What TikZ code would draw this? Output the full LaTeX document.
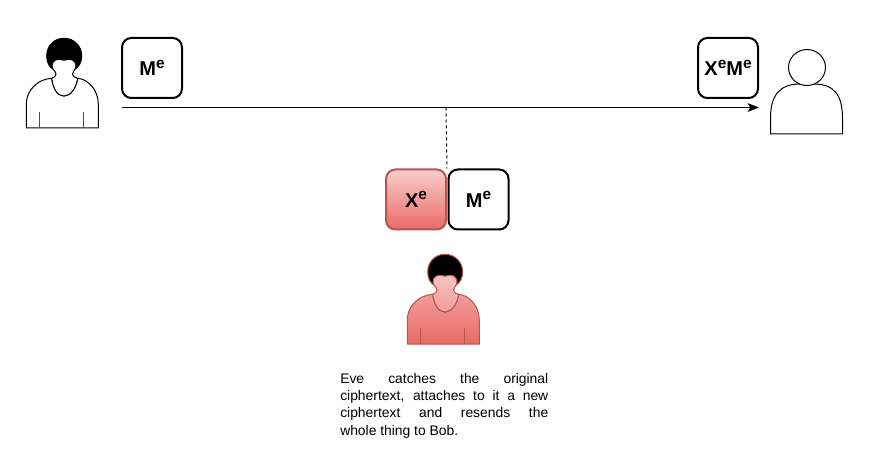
\documentclass[tikz,border=0pt]{standalone}
\usepackage{fontspec}
\setmainfont{Liberation Sans}
\usetikzlibrary{arrows.meta}
\definecolor{evetop}{HTML}{F8CECC}
\definecolor{evebot}{HTML}{EA6B66}
\definecolor{evestroke}{HTML}{B85450}
\colorlet{evelow}{evebot!50!evetop}
\colorlet{evefacetop}{evebot!10!evetop}
\newcommand{\supe}{\raisebox{0.38em}{\fontsize{11.5}{12}\selectfont e}}
\tikzset{
  x=0.75pt,y=-0.75pt,
  cardbox/.style={draw=black,line width=1.5pt,rounded corners=7pt,fill=white,minimum width=45pt,minimum height=45pt,inner sep=0pt,font=\fontsize{15}{17}\selectfont\bfseries},
  evecard/.style={cardbox,draw=evestroke,top color=evetop,bottom color=evebot},
  plainbody/.style={draw=black,line width=0.75pt,fill=white},
  plainhair/.style={draw=black,line width=0.75pt,fill=black},
  evebody/.style={draw=evestroke,line width=0.75pt,top color=evelow,bottom color=evebot},
  eveface/.style={draw=evestroke,line width=0.75pt,top color=evefacetop,bottom color=evelow},
  evehair/.style={draw=evestroke,line width=0.75pt,fill=black},
  caption/.style={align=justify,text width=156pt,inner sep=0pt,font=\fontsize{10.4}{13}\selectfont},
  flow/.style={draw=black,line width=0.75pt,-{Stealth[length=8.5pt,width=6.5pt,inset=2pt]}},
  drop/.style={draw=black,line width=0.75pt,dash pattern=on 2.25pt off 2.25pt},
}
\newcommand{\womanfig}[6]{% x, y, body, face, hair, linecol
  \begin{scope}[shift={(#1,#2)}]
    % hair
    \path[#5] (38,0.3) .. controls (48,0.3) and (55.7,8) .. (55.7,18)
      .. controls (55.7,24) and (53,29) .. (48,32) -- (28,32)
      .. controls (23,29) and (20.7,24) .. (20.7,18)
      .. controls (20.7,8) and (28,0.3) .. (38,0.3) -- cycle;
    % body
    \path[#3] (0.3,90) -- (0.3,66) .. controls (0.3,52) and (12,41) .. (25.7,40.3)
      .. controls (27,50) and (31,58) .. (38,58)
      .. controls (45,58) and (50,50) .. (51.7,40.3)
      .. controls (62,41) and (72.3,52) .. (72.3,66) -- (72.3,90) -- cycle;
    \draw[#6,line width=0.75pt] (13,74.3) -- (13,90) (57.7,74.3) -- (57.7,90);
    % neck and face
    \path[#4] (25.7,40.3) .. controls (28.5,39.5) and (30,38) .. (30,36)
      .. controls (30,33) and (26,32) .. (26,27.5)
      .. controls (26,22.5) and (31.5,20.5) .. (34.5,21.5)
      .. controls (37,22.5) and (39,22.5) .. (41.5,21.5)
      .. controls (44.5,20.5) and (50,22.5) .. (50,27.5)
      .. controls (50,32) and (46.5,33) .. (46.5,36)
      .. controls (46.5,38) and (48.5,39.5) .. (51.7,40.3)
      .. controls (50,50) and (45,58) .. (38,58)
      .. controls (31,58) and (27,50) .. (25.7,40.3) -- cycle;
  \end{scope}}
\begin{document}
\begin{tikzpicture}
  \useasboundingbox[fill=white] (0,0) rectangle (869,467);
  \womanfig{26}{38}{plainbody}{plainbody}{plainhair}{black!70}
  \womanfig{407}{254}{evebody}{eveface}{evehair}{evestroke}
  % Bob
  \draw[plainbody] (770.5,134) -- (770.5,118) .. controls (770.5,95) and (780,84) .. (800,84)
     -- (814,84) .. controls (834,84) and (842.5,95) .. (842.5,118) -- (842.5,134) -- cycle;
  \draw[plainbody] (807,67.5) ellipse [x radius=18.5,y radius=18];
  \node[cardbox] (c1) at (152,68) {M\supe};
  \node[cardbox] (c2) at (728,68) {X\supe M\supe};
  \node[evecard] (c3) at (416,199.5) {X\supe};
  \node[cardbox] (c4) at (478.5,199.5) {M\supe};
  \coordinate (src) at (122,107.5);
  \coordinate (dst) at (759,107.5);
  \coordinate (tap) at (446,107.5);
  \draw[flow] (src) -- (dst);
  \draw[drop] (tap) -- (c3.north east);
  \node[caption,anchor=north west] (note) at (340,373) {Eve catches the original\linebreak ciphertext, attaches to it a new\linebreak ciphertext and resends the\linebreak whole thing to Bob.};
\end{tikzpicture}
\end{document}
